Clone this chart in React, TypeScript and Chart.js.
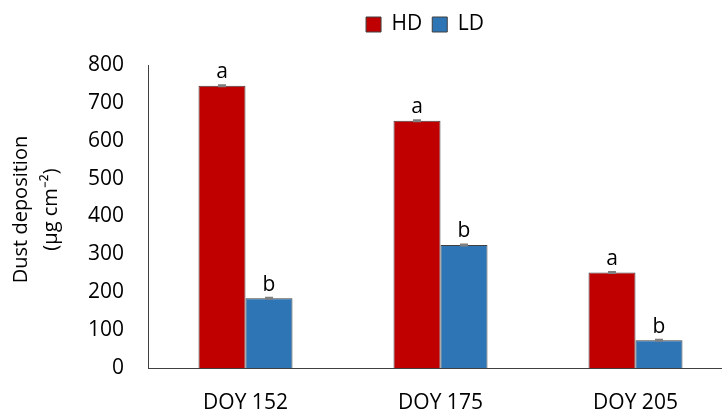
import React, { useEffect, useRef } from 'react';
import { Chart, registerables } from 'chart.js';

Chart.register(...registerables);

const CATEGORIES = ['DOY 152', 'DOY 175', 'DOY 205'];
const SERIES_NAMES = ['HD', 'LD'];
const HD_VALUES = [745, 653, 252];
const LD_VALUES = [184, 325, 73];
const HD_ERRORS = [2, 2, 2];
const LD_ERRORS = [2, 2, 2];
const HD_LETTERS = ['a', 'a', 'a'];
const LD_LETTERS = ['b', 'b', 'b'];
const Y_MIN = 0;
const Y_MAX = 800;
const Y_STEP = 100;
const Y_TITLE = ['Dust deposition', '(µg cm⁻²)'];

const FONT = "'Open Sans', 'Liberation Sans', sans-serif";
const HD_COLOR = '#C00000';
const LD_COLOR = '#2E75B6';

const ERRORS = [HD_ERRORS, LD_ERRORS];
const LETTERS = [HD_LETTERS, LD_LETTERS];

const annotatePlugin = {
  id: 'annotate',
  afterLayout(chart: any) {
    const lg = chart.legend;
    if (lg) {
      const c = (lg.left + lg.right) / 2;
      const dx = 425 - c;
      lg.left += dx;
      lg.right += dx;
    }
  },
  afterDatasetsDraw(chart: any) {
    const ctx = chart.ctx;
    const yScale = chart.scales.y;
    chart.data.datasets.forEach((ds: any, i: number) => {
      const meta = chart.getDatasetMeta(i);
      meta.data.forEach((bar: any, j: number) => {
        const v = ds.data[j];
        const e = ERRORS[i][j];
        const yHi = yScale.getPixelForValue(v + e);
        const yLo = yScale.getPixelForValue(v - e);
        ctx.save();
        ctx.strokeStyle = '#7f7f7f';
        ctx.lineWidth = 1.5;
        ctx.beginPath();
        ctx.moveTo(bar.x, yHi);
        ctx.lineTo(bar.x, yLo);
        ctx.moveTo(bar.x - 4, yHi);
        ctx.lineTo(bar.x + 4, yHi);
        ctx.moveTo(bar.x - 4, yLo);
        ctx.lineTo(bar.x + 4, yLo);
        ctx.stroke();
        ctx.fillStyle = '#000';
        ctx.font = `21px ${FONT}`;
        ctx.textAlign = 'center';
        ctx.textBaseline = 'alphabetic';
        ctx.fillText(LETTERS[i][j], bar.x, yHi - 7);
        ctx.restore();
      });
    });
  },
  afterDraw(chart: any) {
    const ctx = chart.ctx;
    const area = chart.chartArea;
    const cy = (area.top + area.bottom) / 2 - 7;
    ctx.save();
    ctx.fillStyle = '#000';
    ctx.font = `20px ${FONT}`;
    ctx.textAlign = 'center';
    ctx.textBaseline = 'middle';
    const xs = [21, 51];
    Y_TITLE.forEach((t, k) => {
      ctx.save();
      ctx.translate(xs[k], cy);
      ctx.rotate(-Math.PI / 2);
      ctx.fillText(t, 0, 0);
      ctx.restore();
    });
    ctx.restore();
  },
};

export default function App() {
  const ref = useRef<HTMLCanvasElement | null>(null);

  useEffect(() => {
    document.body.style.margin = '0';
    document.body.style.overflow = 'hidden';
    document.documentElement.style.overflow = 'hidden';
    if (!ref.current) return;
    const chart = new Chart(ref.current, {
      type: 'bar',
      data: {
        labels: CATEGORIES,
        datasets: [
          {
            label: SERIES_NAMES[0],
            data: HD_VALUES,
            backgroundColor: HD_COLOR,
            borderColor: '#404040',
            borderWidth: 1,
            categoryPercentage: 0.482,
            barPercentage: 1,
          },
          {
            label: SERIES_NAMES[1],
            data: LD_VALUES,
            backgroundColor: LD_COLOR,
            borderColor: '#404040',
            borderWidth: 1,
            categoryPercentage: 0.482,
            barPercentage: 1,
          },
        ],
      },
      options: {
        animation: false,
        responsive: true,
        maintainAspectRatio: false,
        layout: { padding: { top: 4, left: 0, right: 0, bottom: 0 } },
        plugins: {
          legend: {
            position: 'top',
            labels: {
              boxWidth: 15,
              boxHeight: 15,
              padding: 10,
              color: '#000',
              font: { family: FONT, size: 21 },
            },
          },
          title: {
            display: true,
            text: '',
            weight: 500,
            font: { size: 1, lineHeight: 1 },
            padding: { top: 19, bottom: 0 },
          },
          tooltip: { enabled: false },
        },
        scales: {
          x: {
            grid: { display: false },
            border: { display: true, color: '#404040', width: 1 },
            ticks: {
              color: '#000',
              padding: 14,
              font: { family: FONT, size: 21 },
              maxRotation: 0,
            },
            afterFit(scale: any) {
              scale.height = 41;
            },
          },
          y: {
            min: Y_MIN,
            max: Y_MAX,
            grid: { display: false },
            border: { display: true, color: '#404040', width: 1 },
            ticks: {
              stepSize: Y_STEP,
              color: '#000',
              padding: 16,
              font: { family: FONT, size: 21 },
            },
            afterFit(scale: any) {
              scale.width = 148;
            },
          },
        },
      },
      plugins: [annotatePlugin],
    });
    return () => chart.destroy();
  }, []);

  return (
    <div style={{ width: '733px', height: '409px', position: 'relative' }}>
      <canvas ref={ref} />
    </div>
  );
}
